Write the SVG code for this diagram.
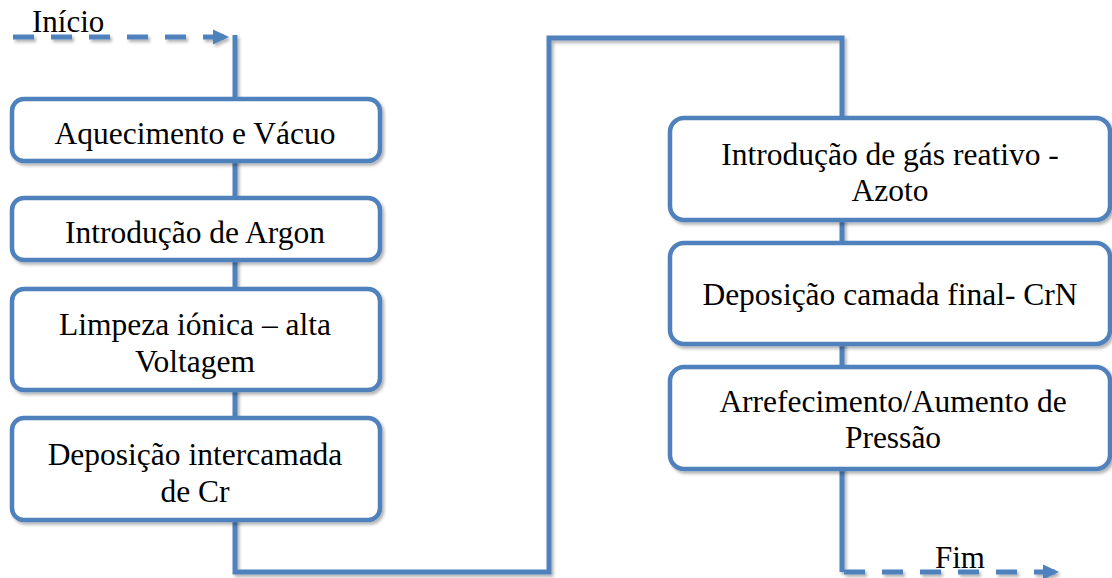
<svg xmlns="http://www.w3.org/2000/svg" width="1112" height="578" viewBox="0 0 1112 578">
<style>
.ln{fill:none;stroke:#4F81BD;stroke-width:5}
.dash{stroke-dasharray:21 17}
.box{fill:#fff;stroke:#4F81BD;stroke-width:4.5}
.t{font-size:31.5px;text-anchor:middle}
.lbl{font-size:31px}
</style>
<defs>
<filter id="sh" x="-5%" y="-5%" width="115%" height="130%">
<feDropShadow dx="2" dy="2.5" stdDeviation="1.5" flood-color="#000" flood-opacity="0.3"/>
</filter>
<marker id="ah" markerWidth="4" markerHeight="4" refX="3" refY="2" orient="auto" markerUnits="strokeWidth">
<path d="M0,0.5 L3.2,2 L0,3.5 z" fill="#4F81BD"/>
</marker>
<clipPath id="c2"><rect x="14" y="200" width="364" height="58"/></clipPath>
<clipPath id="c3"><rect x="14" y="291" width="364" height="97"/></clipPath>
</defs>
<g id="connectors" filter="url(#sh)">
<path class="ln dash" d="M13,37 L228,37" marker-end="url(#ah)"/>
<path class="ln" d="M235,35 L235,572 L549,572 L549,38 L842,38 L842,572"/>
<path class="ln dash" d="M842,572 L1058,572" stroke-dashoffset="-2" marker-end="url(#ah)"/>
</g>
<g font-family="Liberation Serif, DejaVu Serif, serif" fill="#000">
<g id="start"><text class="lbl" x="32" y="32">Início</text></g>
<g id="end"><text class="lbl" x="935" y="568">Fim</text></g>
<g id="n1">
<rect class="box" x="12" y="99" width="368" height="62" rx="12" filter="url(#sh)"/>
<text class="t" x="195" y="144">Aquecimento e Vácuo</text>
</g>
<g id="n2">
<rect class="box" x="12" y="198" width="368" height="62" rx="12" filter="url(#sh)"/>
<text class="t" x="195" y="243" clip-path="url(#c2)">Introdução de Argon</text>
</g>
<g id="n3">
<rect class="box" x="12" y="289" width="368" height="101" rx="12" filter="url(#sh)"/>
<g clip-path="url(#c3)">
<text class="t" x="195" y="335">Limpeza iónica – alta</text>
<text class="t" x="195" y="372">Voltagem</text>
</g>
</g>
<g id="n4">
<rect class="box" x="12" y="418" width="368" height="102" rx="12" filter="url(#sh)"/>
<text class="t" x="195" y="465">Deposição intercamada</text>
<text class="t" x="195" y="502">de Cr</text>
</g>
<g id="n5">
<rect class="box" x="670" y="118" width="440" height="102" rx="14" filter="url(#sh)"/>
<text class="t" x="890" y="165">Introdução de gás reativo -</text>
<text class="t" x="890" y="201">Azoto</text>
</g>
<g id="n6">
<rect class="box" x="670" y="243" width="440" height="101" rx="14" filter="url(#sh)"/>
<text class="t" x="890" y="305">Deposição camada final- CrN</text>
</g>
<g id="n7">
<rect class="box" x="670" y="367" width="440" height="102" rx="14" filter="url(#sh)"/>
<text class="t" x="893" y="412">Arrefecimento/Aumento de</text>
<text class="t" x="893" y="448">Pressão</text>
</g>
</g>
</svg>
